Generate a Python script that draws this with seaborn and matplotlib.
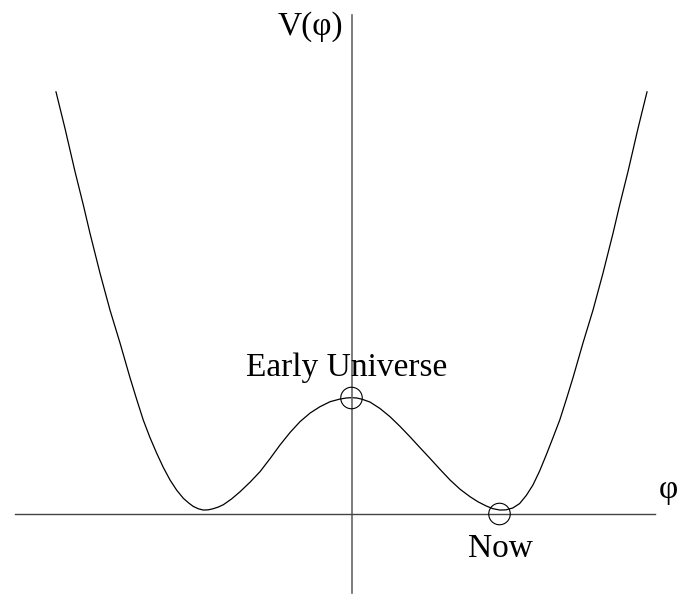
import matplotlib
matplotlib.use("Agg")
import matplotlib.pyplot as plt
import seaborn as sns
import pandas as pd

# Field value (phi) and potential V(phi)
phi = [-1.997, -1.936, -1.868, -1.812, -1.767, -1.699, -1.632, -1.564, -1.497,
       -1.452, -1.407, -1.362, -1.316, -1.271, -1.226, -1.181, -1.136, -1.100,
       -1.070, -1.035, -1.001, -0.968, -0.936, -0.900, -0.866, -0.810, -0.753,
       -0.685, -0.618, -0.550, -0.483, -0.415, -0.348, -0.280, -0.213, -0.145,
       -0.078, -0.035, 0.000, 0.035, 0.070, 0.125, 0.192, 0.260, 0.328, 0.395,
       0.462, 0.530, 0.598, 0.666, 0.734, 0.801, 0.855, 0.909, 0.955, 1.003,
       1.045, 1.090, 1.136, 1.181, 1.226, 1.271, 1.316, 1.362, 1.407, 1.452,
       1.497, 1.564, 1.632, 1.699, 1.767, 1.812, 1.868, 1.936, 1.997]
V = [3.641, 3.325, 2.951, 2.664, 2.420, 2.075, 1.759, 1.474, 1.177,
     0.990, 0.810, 0.660, 0.523, 0.400, 0.293, 0.205, 0.135, 0.095,
     0.066, 0.045, 0.034, 0.036, 0.045, 0.060, 0.080, 0.130, 0.192,
     0.275, 0.365, 0.478, 0.595, 0.703, 0.796, 0.870, 0.925, 0.968,
     0.991, 1.000, 1.003, 1.000, 0.990, 0.965, 0.910, 0.839, 0.755, 0.666,
     0.573, 0.480, 0.385, 0.293, 0.213, 0.149, 0.105, 0.070, 0.046, 0.034,
     0.036, 0.052, 0.090, 0.160, 0.250, 0.370, 0.510, 0.660, 0.810, 0.990,
     1.177, 1.474, 1.759, 2.075, 2.420, 2.664, 2.951, 3.325, 3.641]

# Marked states: label, phi, V
state_labels = ["Early Universe", "Now"]
state_phi = [0.0, 1.0]
state_V = [1.0, 0.0]

axis_labels = ["V(φ)", "φ"]

df = pd.DataFrame({"phi": phi, "V": V})

sns.set_style("white")
plt.rcParams["font.family"] = ["Liberation Serif", "DejaVu Serif"]
plt.rcParams["text.color"] = "black"

W, H = 681, 596
fig = plt.figure(figsize=(W / 100, H / 100), dpi=100)
# axes region: horizontal axis spans px 15..655, vertical axis px 15..593
ax = fig.add_axes([15 / W, 3 / H, 640 / W, 578 / H])

sx = 148.0   # px per phi unit
sy = 116.0   # px per V unit
ox, oy = 351.5, 514.0
ax.set_xlim((15 - ox) / sx, (655 - ox) / sx)
ax.set_ylim((oy - 593) / sy, (oy - 15) / sy)

sns.lineplot(data=df, x="phi", y="V", ax=ax, color="black", linewidth=0.9,
             estimator=None, sort=False)

ax.scatter(state_phi, state_V, s=15.5 ** 2, facecolors="none",
           edgecolors="black", linewidths=0.8, zorder=5)

for s in ["top", "right"]:
    ax.spines[s].set_visible(False)
ax.spines["left"].set_position(("data", 0))
ax.spines["bottom"].set_position(("data", 0))
ax.spines["left"].set_color("#666666")
ax.spines["left"].set_linewidth(1.2)
ax.spines["bottom"].set_color("#444444")
ax.spines["bottom"].set_linewidth(1.0)
ax.set_xticks([])
ax.set_yticks([])
ax.set_xlabel("")
ax.set_ylabel("")
ax.patch.set_alpha(0)

fs = 24
fig.text(310 / W, 1 - 27 / H, axis_labels[0], fontsize=fs, ha="center",
         va="center", color="black")
fig.text(668 / W, 1 - 490 / H, axis_labels[1], fontsize=fs, ha="center",
         va="center", color="black")
fig.text(347 / W, 1 - 376 / H, state_labels[0], fontsize=fs, ha="center",
         va="baseline", color="black")
fig.text(500 / W, 1 - 557 / H, state_labels[1], fontsize=fs, ha="center",
         va="baseline", color="black")

fig.savefig("out.png", dpi=100)
